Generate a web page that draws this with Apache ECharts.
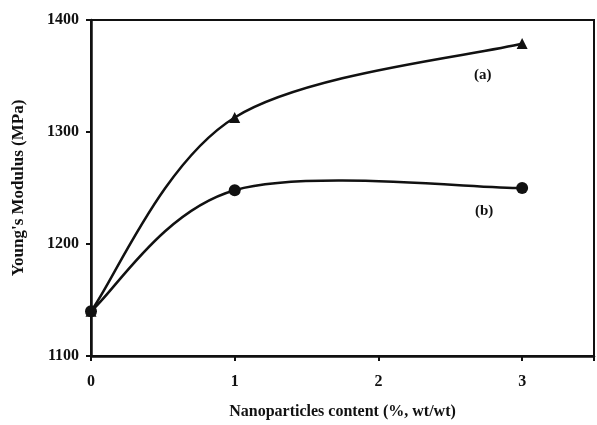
<!DOCTYPE html>
<html>
<head>
<meta charset="utf-8">
<script src="https://cdn.jsdelivr.net/npm/echarts@6/dist/echarts.min.js"></script>
<style>html,body{margin:0;padding:0;background:#fff}#c{width:597px;height:425px}</style>
</head>
<body>
<div id="c"></div>
<script>
const xValues = [0, 1, 3];
const seriesA = [1140, 1313, 1379];
const seriesB = [1140, 1248, 1250];
const xTicks = [0, 1, 2, 3];
const yTicks = [1100, 1200, 1300, 1400];
const seriesNames = ['(a)', '(b)'];

const font = 'Liberation Serif, Times New Roman, serif';
const chart = echarts.init(document.getElementById('c'), null, {renderer: 'canvas'});
const pair = (xs, ys) => xs.map((x, i) => [x, ys[i]]);

// Excel-style smoothed curve: cubic Bezier segments with Catmull-Rom (1/6) control points,
// computed in pixel space from the data via the axis scales.
function smoothSeries(ys) {
  const data = pair(xValues, ys);
  return {
    type: 'custom', data: data, z: 2, silent: true,
    encode: {x: 0, y: 1},
    renderItem: function (params, api) {
      const i = params.dataIndex;
      if (i >= data.length - 1) return null;
      const P = data.map(d => api.coord(d));
      const p0 = P[Math.max(i - 1, 0)], p1 = P[i], p2 = P[i + 1], p3 = P[Math.min(i + 2, P.length - 1)];
      return {
        type: 'bezierCurve',
        shape: {
          x1: p1[0], y1: p1[1], x2: p2[0], y2: p2[1],
          cpx1: p1[0] + (p2[0] - p0[0]) / 6, cpy1: p1[1] + (p2[1] - p0[1]) / 6,
          cpx2: p2[0] - (p3[0] - p1[0]) / 6, cpy2: p2[1] - (p3[1] - p1[1]) / 6
        },
        style: {stroke: '#111', lineWidth: 2.5, fill: null}
      };
    }
  };
}

chart.setOption({
  animation: false,
  backgroundColor: '#fff',
  grid: {left: 91, right: 1, top: 20, bottom: 69, show: true, borderColor: '#111', borderWidth: 2, containLabel: false},
  xAxis: {
    type: 'value', min: 0, max: 3.5, interval: 1,
    name: 'Nanoparticles content (%, wt/wt)', nameLocation: 'middle', nameGap: 48,
    nameTextStyle: {fontFamily: font, fontWeight: 'bold', fontSize: 16, color: '#111'},
    axisLine: {lineStyle: {color: '#111', width: 2.5}},
    axisTick: {show: true, length: 5, lineStyle: {color: '#111', width: 2}},
    axisLabel: {fontFamily: font, fontWeight: 'bold', fontSize: 16, color: '#111', margin: 18,
      formatter: v => xTicks.includes(v) ? String(v) : ''},
    splitLine: {show: false}
  },
  yAxis: {
    type: 'value', min: yTicks[0], max: yTicks[yTicks.length - 1], interval: 100,
    name: "Young's Modulus (MPa)", nameLocation: 'middle', nameGap: 64,
    nameTextStyle: {fontFamily: font, fontWeight: 'bold', fontSize: 17, color: '#111'},
    axisLine: {show: true, lineStyle: {color: '#111', width: 2.5}},
    axisTick: {show: true, length: 5, lineStyle: {color: '#111', width: 2}},
    axisLabel: {fontFamily: font, fontWeight: 'bold', fontSize: 16, color: '#111', margin: 12,
      formatter: v => String(v)},
    splitLine: {show: false}
  },
  series: [
    smoothSeries(seriesA),
    smoothSeries(seriesB),
    {
      name: seriesNames[0], type: 'scatter', data: pair(xValues, seriesA),
      symbol: 'triangle', symbolSize: 11, z: 3, itemStyle: {color: '#111', opacity: 1}
    },
    {
      name: seriesNames[1], type: 'scatter', data: pair(xValues, seriesB),
      symbol: 'circle', symbolSize: 12, z: 4, itemStyle: {color: '#111', opacity: 1}
    }
  ],
  graphic: [
    {type: 'text', left: 474, top: 68, style: {text: seriesNames[0], font: 'bold 15px ' + font, fill: '#111'}},
    {type: 'text', left: 475, top: 204, style: {text: seriesNames[1], font: 'bold 15px ' + font, fill: '#111'}}
  ]
});
</script>
</body>
</html>
